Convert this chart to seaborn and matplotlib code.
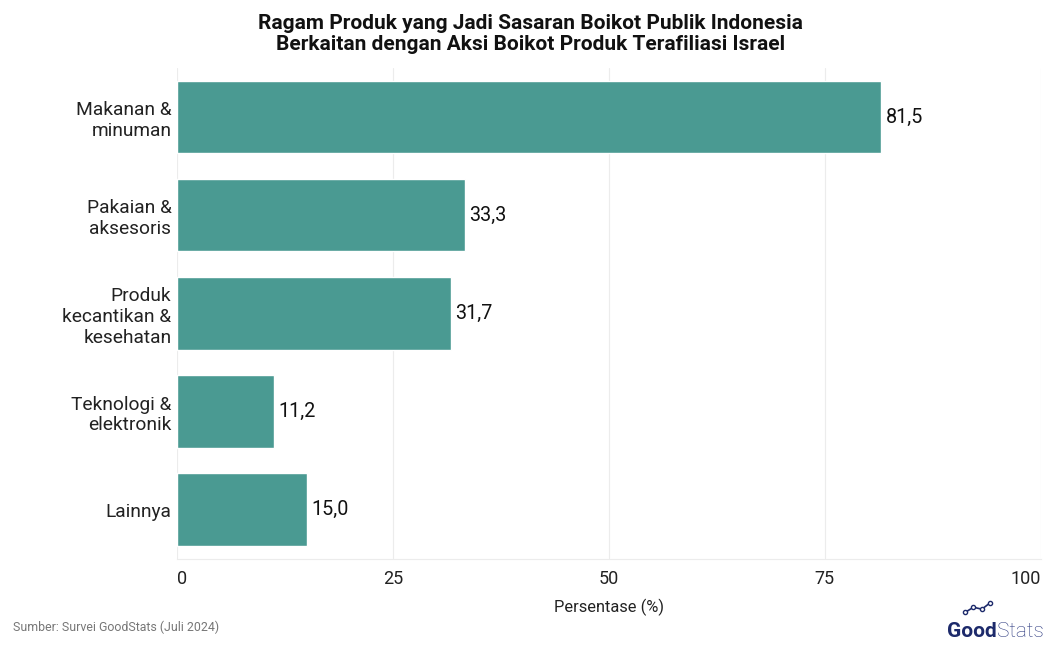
import matplotlib
matplotlib.use("Agg")
import matplotlib.pyplot as plt
import seaborn as sns
import pandas as pd
from matplotlib.lines import Line2D

categories = ["Makanan &\nminuman", "Pakaian &\naksesoris", "Produk\nkecantikan &\nkesehatan",
              "Teknologi &\nelektronik", "Lainnya"]
values = [81.5, 33.3, 31.7, 11.2, 15.0]
xticks = [0, 25, 50, 75, 100]

sns.set_theme(style="white")
plt.rcParams['font.family'] = ['Roboto', 'DejaVu Sans']

df = pd.DataFrame({"cat": categories, "val": values})

fig = plt.figure(figsize=(10.49, 6.46), dpi=100)
ax = fig.add_axes([0.1687, 0.135, 0.8236, 0.760])
sns.barplot(data=df, y="cat", x="val", color="#4A9A92", saturation=1, width=0.74, ax=ax, orient="h")

ax.set_xlim(0, 100)
ax.set_xticks(xticks)
ax.set_xticklabels([str(t) for t in xticks], fontsize=13, color="#222222")
xl = ax.get_xticklabels()
xl[0].set_horizontalalignment("left")
xl[-1].set_horizontalalignment("right")
ax.tick_params(axis="y", labelsize=13.8, colors="#222222", length=0, pad=4)
ax.tick_params(axis="x", length=0, pad=8)
for lab in ax.get_yticklabels():
    lab.set_horizontalalignment("right")
    lab.set_multialignment("right")
ax.set_ylabel("")
ax.set_xlabel("Persentase (%)", fontsize=11.8, color="#222222", labelpad=8)
ax.grid(axis="x", color="#ececec", linewidth=0.8)
ax.set_axisbelow(True)
for s in ax.spines.values():
    s.set_visible(False)
ax.spines["bottom"].set_visible(True)
ax.spines["bottom"].set_color("#ececec")
ax.spines["bottom"].set_linewidth(0.8)

for i, v in enumerate(values):
    ax.text(v + 0.5, i, f"{v:.1f}".replace(".", ","), va="center", ha="left",
            fontsize=14.2, color="#111111")

fig.text(0.506, 0.979, "Ragam Produk yang Jadi Sasaran Boikot Publik Indonesia\nBerkaitan dengan Aksi Boikot Produk Terafiliasi Israel",
         ha="center", va="top", fontsize=15, fontweight="bold", color="#111111", linespacing=1.15)
fig.text(0.012, 0.018, "Sumber: Survei GoodStats (Juli 2024)", ha="left", va="bottom",
         fontsize=8.9, color="#777777")
fig.text(0.950, 0.008, "Good", ha="right", va="bottom", fontsize=15, fontweight="bold", color="#1d2a6b")
fig.text(0.950, 0.008, "Stats", ha="left", va="bottom", fontsize=15, fontweight="light", color="#2d3a80")
# small logo mark above "Good"
fig.add_artist(Line2D([0.920, 0.928, 0.936, 0.944], [0.052, 0.060, 0.057, 0.067],
                      transform=fig.transFigure, color="#1d2a6b", linewidth=1.2,
                      marker="o", markersize=3, markerfacecolor="white", markeredgewidth=1))

fig.savefig("out.png", dpi=100, facecolor="white")
